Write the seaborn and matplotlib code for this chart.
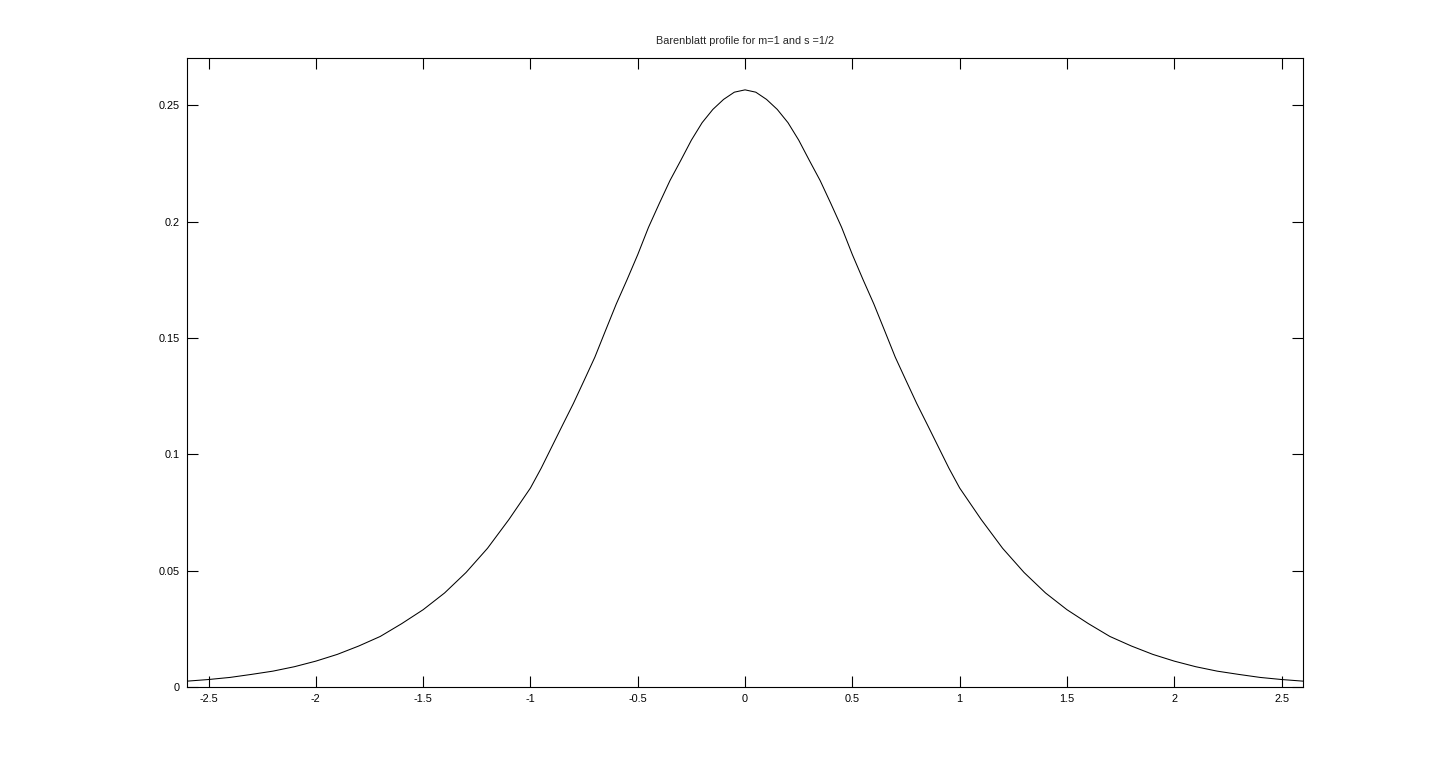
import matplotlib
matplotlib.use("Agg")
import matplotlib.pyplot as plt
import seaborn as sns
import pandas as pd

# Data
x_vals = [-2.6, -2.5, -2.4, -2.3, -2.2, -2.1, -2.0, -1.9, -1.8, -1.7, -1.6,
          -1.5, -1.4, -1.3, -1.2, -1.1, -1.0, -0.95, -0.9, -0.85, -0.8, -0.75,
          -0.7, -0.65, -0.6, -0.55, -0.5, -0.45, -0.4, -0.35, -0.3, -0.25,
          -0.2, -0.15, -0.1, -0.05, 0.0,
          0.05, 0.1, 0.15, 0.2, 0.25, 0.3, 0.35, 0.4, 0.45, 0.5, 0.55, 0.6,
          0.65, 0.7, 0.75, 0.8, 0.85, 0.9, 0.95,
          1.0, 1.1, 1.2, 1.3, 1.4, 1.5, 1.6, 1.7, 1.8, 1.9, 2.0, 2.1, 2.2,
          2.3, 2.4, 2.5, 2.6]
y_vals = [0.0025, 0.0032, 0.0041, 0.0054, 0.0068, 0.0087, 0.0111, 0.0140,
          0.0176, 0.0217, 0.0272, 0.0332, 0.0404, 0.0492, 0.0596, 0.0720,
          0.0855, 0.0940, 0.1033, 0.1126, 0.1218, 0.1317, 0.1417, 0.1532,
          0.1646, 0.1750, 0.1858, 0.1975, 0.2077, 0.2176, 0.2262, 0.2350,
          0.2425, 0.2482, 0.2525, 0.2556, 0.2566,
          0.2556, 0.2525, 0.2482, 0.2425, 0.2350, 0.2262, 0.2176, 0.2077,
          0.1975, 0.1858, 0.1750, 0.1646, 0.1532, 0.1417, 0.1317, 0.1218,
          0.1126, 0.1033, 0.0940,
          0.0855, 0.0720, 0.0596, 0.0492,
          0.0404, 0.0332, 0.0272, 0.0217, 0.0176, 0.0140, 0.0111, 0.0087,
          0.0068, 0.0054, 0.0041, 0.0032, 0.0025]

x_ticks = [-2.5, -2, -1.5, -1, -0.5, 0, 0.5, 1, 1.5, 2, 2.5]
x_tick_labels = ["-2.5", "-2", "-1.5", "-1", "-0.5", "0", "0.5", "1", "1.5", "2", "2.5"]
y_ticks = [0, 0.05, 0.1, 0.15, 0.2, 0.25]
y_tick_labels = ["0", "0.05", "0.1", "0.15", "0.2", "0.25"]
title = "Barenblatt profile for m=1 and s =1/2"

sns.set_style("white")
plt.rcParams['font.family'] = ['Liberation Sans', 'DejaVu Sans']

fig = plt.figure(figsize=(14.4, 7.73), dpi=100)
ax = fig.add_axes([0.1299, 0.1113, 0.7750, 0.8137])

df = pd.DataFrame({"x": x_vals, "y": y_vals})
sns.lineplot(data=df, x="x", y="y", ax=ax, color="black", linewidth=0.75,
             estimator=None, sort=False)

ax.set_xlim(-2.6, 2.6)
ax.set_ylim(0, 0.2703)
ax.set_xticks(x_ticks)
ax.set_xticklabels(x_tick_labels)
ax.set_yticks(y_ticks)
ax.set_yticklabels(y_tick_labels)
ax.set_xlabel("")
ax.set_ylabel("")
ax.tick_params(direction="in", length=8, width=0.8, colors="black",
               labelsize=7.8, top=True, right=True, bottom=True, left=True,
               pad=5)
for s in ax.spines.values():
    s.set_visible(True)
    s.set_color("black")
    s.set_linewidth(0.8)
ax.set_title(title, fontsize=7.8, pad=10)
ax.grid(False)

fig.savefig("out.png", dpi=100, facecolor="white")
